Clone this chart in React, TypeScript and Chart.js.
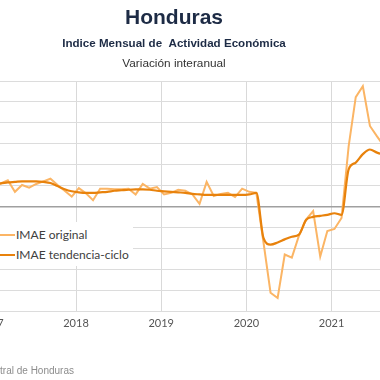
import React, { useEffect, useRef } from "react";
import { Chart, registerables } from "chart.js";

Chart.register(...registerables);

// ---- Data (monthly, year-on-year % change) ----
const START_YEAR = 2016;
const START_MONTH = 10; // October 2016
const yearTicks = [2016, 2017, 2018, 2019, 2020, 2021, 2022];

const imaeOriginal = [
  // 2016 Oct-Dec
  3.6, 4.6, 3.9,
  // 2017
  4.0, 4.4, 5.0, 2.8, 4.1, 3.6, 4.3, 4.8, 5.3, 4.1, 3.0, 1.9,
  // 2018
  3.5, 2.5, 1.2, 3.4, 3.4, 3.3, 3.3, 3.4, 2.3, 4.3, 3.4, 3.7,
  // 2019
  2.3, 2.6, 3.2, 3.0, 2.3, 0.5, 4.7, 2.0, 2.4, 2.6, 1.8, 3.4,
  // 2020
  2.8, 2.6, -6.8, -16.5, -17.5, -9.2, -9.8, -5.6, -2.5, -0.9, -9.6, -4.7,
  // 2021 Jan-Aug
  -4.3, -2.2, 11.5, 20.9, 23.0, 15.4, 13.4, 11.5,
];

const imaeTrend = [
  // 2016 Oct-Dec
  4.0, 4.1, 4.2,
  // 2017
  4.3, 4.4, 4.6, 4.7, 4.8, 4.8, 4.8, 4.7, 4.5, 3.9, 3.3, 2.9,
  // 2018
  2.7, 2.6, 2.6, 2.7, 2.8, 3.0, 3.1, 3.2, 3.25, 3.25, 3.2, 3.0,
  // 2019
  2.9, 2.8, 2.7, 2.6, 2.4, 2.3, 2.2, 2.2, 2.2, 2.2, 2.2, 2.2,
  // 2020
  2.3, 2.6, -6.0, -7.3, -6.9, -6.3, -5.8, -5.4, -2.6, -2.0, -1.8, -1.6,
  // 2021 Jan-Aug
  -1.3, -1.6, 7.1, 8.4, 10.0, 10.9, 10.3, 9.9,
];

const Y_MIN = -20;
const Y_MAX = 24;
const Y_STEP = 4;

const LABEL_ORIGINAL = "IMAE original";
const LABEL_TREND = "IMAE tendencia-ciclo";

// month position (months since Jan of first tick year), plotted mid-month
const monthX = (i: number) => (START_YEAR - yearTicks[0]) * 12 + (START_MONTH - 1) + i + 0.4;

const COLOR_ORIG = "#fbb565";
const COLOR_TREND = "#e8820c";

export default function App() {
  const ref = useRef<HTMLCanvasElement | null>(null);

  useEffect(() => {
    if (!ref.current) return;
    const toPts = (arr: number[]) => arr.map((v, i) => ({ x: monthX(i), y: v }));
    const chart = new Chart(ref.current, {
      type: "line",
      data: {
        datasets: [
          {
            label: LABEL_TREND,
            data: toPts(imaeTrend),
            borderColor: COLOR_TREND,
            borderWidth: 2.2,
            pointRadius: 0,
            cubicInterpolationMode: "monotone",
            order: 0,
          },
          {
            label: LABEL_ORIGINAL,
            data: toPts(imaeOriginal),
            borderColor: COLOR_ORIG,
            borderWidth: 2,
            pointRadius: 0,
            tension: 0,
            order: 1,
          },
        ],
      },
      options: {
        animation: false,
        responsive: false,
        layout: { padding: { left: 6.6, right: 11.6, top: 81, bottom: 49 } },
        plugins: { legend: { display: false }, tooltip: { enabled: false }, title: { display: false } },
        scales: {
          x: {
            type: "linear",
            min: 10,
            max: 68,
            border: { display: false },
            grid: { color: "#d9d9d9", lineWidth: 1, drawTicks: false },
            afterBuildTicks: (s: any) => {
              s.ticks = yearTicks
                .map((y) => ({ value: (y - yearTicks[0]) * 12 }))
                .filter((t) => t.value >= s.min && t.value <= s.max);
            },
            afterFit: (s: any) => {
              s.height = 20;
            },
            ticks: {
              autoSkip: false,
              maxRotation: 0,
              padding: 6,
              color: "#555555",
              font: { family: "Lato", size: 11 },
              callback: (v: any) => String(yearTicks[0] + Math.round(Number(v) / 12)),
            },
          },
          y: {
            min: Y_MIN,
            max: Y_MAX,
            border: { display: false },
            ticks: { display: false, stepSize: Y_STEP },
            afterFit: (s: any) => {
              s.width = 0;
            },
            grid: {
              drawTicks: false,
              color: (c: any) => (c.tick && c.tick.value === 0 ? "#a0a0a0" : "#dcdcdc"),
              lineWidth: (c: any) => (c.tick && c.tick.value === 0 ? 1.6 : 1),
            },
          },
        },
      },
    });
    return () => chart.destroy();
  }, []);

  const abs: React.CSSProperties = { position: "absolute", whiteSpace: "nowrap" };

  return (
    <div
      style={{
        position: "fixed",
        left: 0,
        top: 0,
        width: 380,
        height: 380,
        overflow: "hidden",
        background: "#ffffff",
      }}
    >
      <canvas
        ref={ref}
        width={430}
        height={380}
        style={{ position: "absolute", left: -30, top: 0, width: 430, height: 380 }}
      />
      <div
        style={{
          ...abs,
          left: 0,
          width: 348,
          top: 4,
          lineHeight: "25px",
          textAlign: "center",
          fontFamily: "'Liberation Sans', Arial, sans-serif",
          fontWeight: "bold",
          fontSize: 21,
          color: "#1d2b45",
        }}
      >
        Honduras
      </div>
      <div
        style={{
          ...abs,
          left: 0,
          width: 348,
          top: 34.5,
          lineHeight: "16px",
          textAlign: "center",
          fontFamily: "'Liberation Sans', Arial, sans-serif",
          fontWeight: "bold",
          fontSize: 11.6,
          color: "#1d2b45",
        }}
      >
        {"Indice Mensual de \u00a0Actividad Económica"}
      </div>
      <div
        style={{
          ...abs,
          left: 0,
          width: 348,
          top: 55,
          lineHeight: "16px",
          textAlign: "center",
          fontFamily: "'Liberation Sans', Arial, sans-serif",
          fontSize: 11.8,
          color: "#333333",
        }}
      >
        Variación interanual
      </div>
      <div
        style={{
          position: "absolute",
          left: 0,
          top: 222,
          width: 133,
          height: 44,
          background: "#ffffff",
          fontFamily: "Lato, sans-serif",
          fontSize: 12,
          color: "#404040",
        }}
      >
        {[
          { label: LABEL_ORIGINAL, color: COLOR_ORIG, cy: 13 },
          { label: LABEL_TREND, color: COLOR_TREND, cy: 33 },
        ].map((it) => (
          <React.Fragment key={it.label}>
            <div
              style={{
                position: "absolute",
                left: -4,
                width: 19,
                top: it.cy - 1,
                height: 2,
                background: it.color,
              }}
            />
            <div style={{ ...abs, left: 16, top: it.cy - 8, lineHeight: "16px" }}>{it.label}</div>
          </React.Fragment>
        ))}
      </div>
      <div
        style={{
          ...abs,
          right: 380 - 74,
          top: 364,
          lineHeight: "14px",
          fontFamily: "'Liberation Sans', Arial, sans-serif",
          fontSize: 10,
          color: "#8c8c8c",
        }}
      >
        Fuente: Banco Central de Honduras
      </div>
    </div>
  );
}
